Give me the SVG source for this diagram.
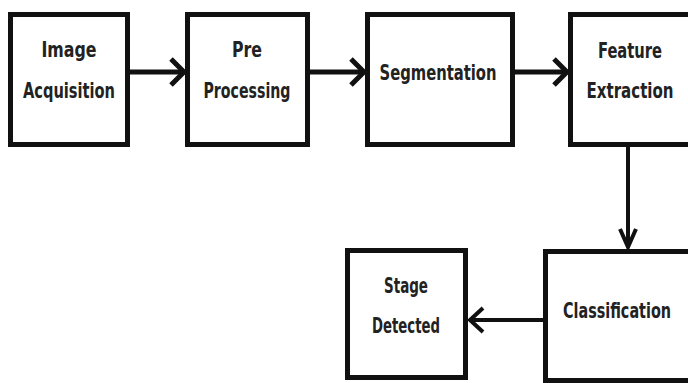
<svg xmlns="http://www.w3.org/2000/svg" width="688" height="383" viewBox="0 0 688 383">
  <style>
    .box { fill: #ffffff; stroke: #111111; stroke-width: 5; }
    .lbl { font-family: "DejaVu Sans", "Liberation Sans", sans-serif; font-stretch: condensed; font-weight: bold; font-size: 21px; fill: #222222; text-anchor: middle; }
    .wire { fill: none; stroke: #111111; stroke-linecap: butt; stroke-linejoin: miter; }
    .thick { stroke-width: 5; }
    .thin { stroke-width: 4; }
  </style>
  <rect width="688" height="383" fill="#ffffff"/>

  <g id="connectors">
    <!-- top row: left to right -->
    <path class="wire thick" d="M130 72 H183"/>
    <path class="wire thick" d="M171 59 L184 72 L171 85"/>
    <path class="wire thick" d="M310 72 H363"/>
    <path class="wire thick" d="M351 59 L364 72 L351 85"/>
    <path class="wire thick" d="M515 72 H566"/>
    <path class="wire thick" d="M554 59 L567 72 L554 85"/>
    <!-- down to classification -->
    <path class="wire thin" d="M628 147 V247"/>
    <path class="wire thin" d="M620 229 L628 247 L636 229"/>
    <!-- classification back to result -->
    <path class="wire thin" d="M543 320 H470"/>
    <path class="wire thin" d="M483 308 L470 320 L483 332"/>
  </g>

  <g id="image-acquisition">
    <rect class="box" x="10.5" y="14.5" width="117" height="130"/>
    <text class="lbl" x="69" y="57" textLength="55" lengthAdjust="spacingAndGlyphs">Image</text>
    <text class="lbl" x="69" y="98" textLength="92" lengthAdjust="spacingAndGlyphs">Acquisition</text>
  </g>

  <g id="pre-processing">
    <rect class="box" x="187.5" y="14.5" width="120" height="130"/>
    <text class="lbl" x="247" y="57" textLength="30" lengthAdjust="spacingAndGlyphs">Pre</text>
    <text class="lbl" x="247" y="98" textLength="87" lengthAdjust="spacingAndGlyphs">Processing</text>
  </g>

  <g id="segmentation">
    <rect class="box" x="367.5" y="14.5" width="145" height="130"/>
    <text class="lbl" x="438" y="80" textLength="117" lengthAdjust="spacingAndGlyphs">Segmentation</text>
  </g>

  <g id="feature-extraction">
    <!-- right side runs past the page edge -->
    <path class="box" d="M688 14.5 H570.5 V144.5 H688"/>
    <text class="lbl" x="630" y="58" textLength="64" lengthAdjust="spacingAndGlyphs">Feature</text>
    <text class="lbl" x="630" y="98" textLength="87" lengthAdjust="spacingAndGlyphs">Extraction</text>
  </g>

  <g id="classification">
    <path class="box" d="M688 251.5 H545.5 V380.5 H688"/>
    <text class="lbl" x="617" y="318" textLength="108" lengthAdjust="spacingAndGlyphs">Classification</text>
  </g>

  <g id="stage-detected">
    <rect class="box" x="347.5" y="250.5" width="118" height="127"/>
    <text class="lbl" x="406" y="293" textLength="44" lengthAdjust="spacingAndGlyphs">Stage</text>
    <text class="lbl" x="406" y="333" textLength="68" lengthAdjust="spacingAndGlyphs">Detected</text>
  </g>
</svg>
